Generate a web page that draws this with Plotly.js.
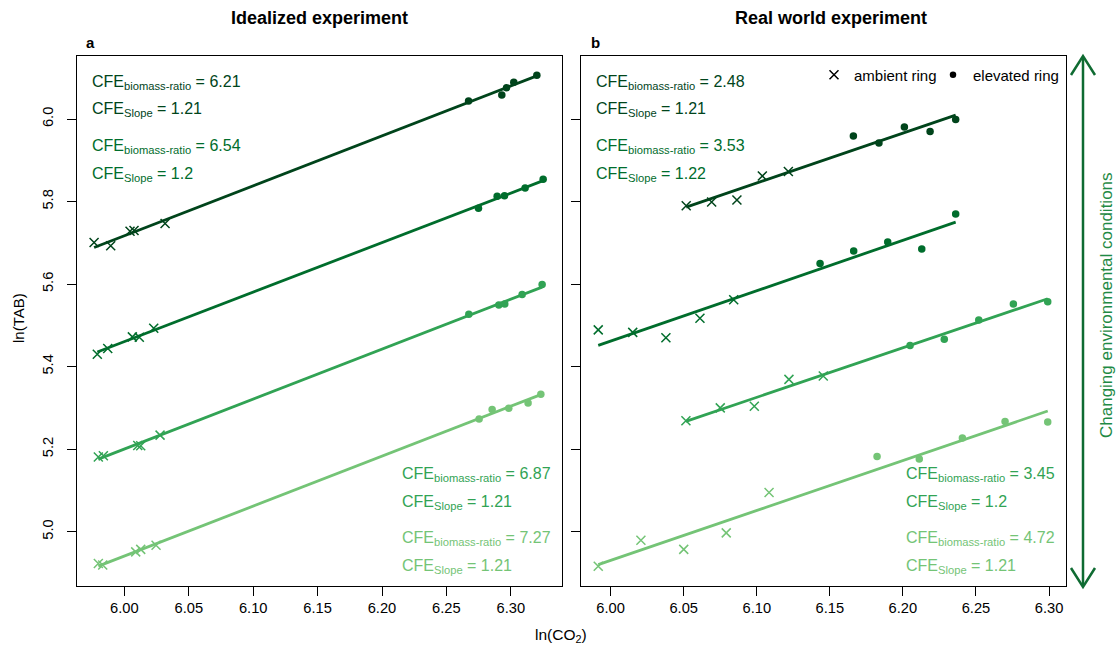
<!DOCTYPE html>
<html>
<head>
<meta charset="utf-8">
<script src="https://cdn.plot.ly/plotly-3.0.1.min.js"></script>
<style>
  html, body { margin: 0; padding: 0; background: #ffffff; }
  #chart { width: 1116px; height: 648px; }
</style>
</head>
<body>
<div id="chart"></div>
<script>
// ---- Data: ln(CO2) vs ln(TAB), four environmental settings per experiment ----
const seriesColors = ['#00441b', '#006d2c', '#31a354', '#74c476'];

// Idealized experiment (panel a)
const idealAmbientX = [
  [5.9765, 5.9894, 6.0044, 6.0075, 6.0316],
  [5.9790, 5.9871, 6.0062, 6.0116, 6.0228],
  [5.9798, 5.9837, 6.0104, 6.0127, 6.0277],
  [5.9798, 5.9832, 6.0088, 6.0127, 6.0246]
];
const idealAmbientY = [
  [5.701, 5.693, 5.728, 5.730, 5.747],
  [5.430, 5.444, 5.472, 5.471, 5.493],
  [5.181, 5.184, 5.209, 5.208, 5.234],
  [4.923, 4.919, 4.951, 4.957, 4.967]
];
const idealElevatedX = [
  [6.2672, 6.2930, 6.2967, 6.3023, 6.3202],
  [6.2749, 6.2894, 6.2951, 6.3111, 6.3251],
  [6.2674, 6.2907, 6.2953, 6.3088, 6.3243],
  [6.2754, 6.2855, 6.2984, 6.3134, 6.3233]
];
const idealElevatedY = [
  [6.044, 6.058, 6.076, 6.089, 6.106],
  [5.784, 5.813, 5.814, 5.833, 5.854],
  [5.527, 5.549, 5.552, 5.575, 5.599],
  [5.273, 5.296, 5.299, 5.312, 5.333]
];
const idealRatio = [6.21, 6.54, 6.87, 7.27];
const idealSlope = [1.21, 1.2, 1.21, 1.21];

// Real world experiment (panel b)
const realAmbientX = [
  [6.0517, 6.0691, 6.0864, 6.1038, 6.1216],
  [5.9915, 6.0151, 6.0378, 6.0611, 6.0842],
  [6.0515, 6.0750, 6.0983, 6.1220, 6.1455],
  [5.9915, 6.0207, 6.0500, 6.0791, 6.1084]
];
const realAmbientY = [
  [5.790, 5.799, 5.804, 5.862, 5.873],
  [5.489, 5.483, 5.470, 5.517, 5.562],
  [5.269, 5.300, 5.304, 5.369, 5.377],
  [4.916, 4.979, 4.957, 4.997, 5.095]
];
const realElevatedX = [
  [6.1661, 6.1836, 6.2010, 6.2186, 6.2361],
  [6.1433, 6.1663, 6.1896, 6.2129, 6.2361],
  [6.2049, 6.2283, 6.2519, 6.2756, 6.2991],
  [6.1823, 6.2112, 6.2407, 6.2699, 6.2991]
];
const realElevatedY = [
  [5.959, 5.942, 5.981, 5.970, 5.999],
  [5.650, 5.680, 5.702, 5.685, 5.770],
  [5.451, 5.466, 5.513, 5.552, 5.557],
  [5.182, 5.176, 5.227, 5.267, 5.266]
];
const realRatio = [2.48, 3.53, 3.45, 4.72];
const realSlope = [1.21, 1.22, 1.2, 1.21];

const xTickVals = [6.00, 6.05, 6.10, 6.15, 6.20, 6.25, 6.30];
const xTickText = ['6.00', '6.05', '6.10', '6.15', '6.20', '6.25', '6.30'];
const yTickVals = [5.0, 5.2, 5.4, 5.6, 5.8, 6.0];
const yTickText = ['5.0', '5.2', '5.4', '5.6', '5.8', '6.0'];

const panelTitles = ['Idealized experiment', 'Real world experiment'];
const panelLetters = ['a', 'b'];
const legendNames = ['ambient ring', 'elevated ring'];
const sideLabel = 'Changing environmental conditions';

// ---- Helpers ----
const W = 1116, H = 648;
const px = v => v / W;
const py = v => 1 - v / H;
const mean = a => a.reduce((s, v) => s + v, 0) / a.length;

// Fitted line with the reported CFE slope through the centroid of the points
function fitLine(xs, ys, slope) {
  const mx = mean(xs), my = mean(ys);
  const x0 = Math.min(...xs), x1 = Math.max(...xs);
  return { x: [x0, x1], y: [my + slope * (x0 - mx), my + slope * (x1 - mx)] };
}

const FONT = 'Liberation Sans, Arial, Helvetica, sans-serif';
const traces = [];

function addPanel(ambX, ambY, elvX, elvY, slopes, xa, ya) {
  for (let i = 0; i < 4; i++) {
    const xs = ambX[i].concat(elvX[i]);
    const ys = ambY[i].concat(elvY[i]);
    const ln = fitLine(xs, ys, slopes[i]);
    traces.push({
      type: 'scatter', mode: 'lines', x: ln.x, y: ln.y, xaxis: xa, yaxis: ya,
      line: { color: seriesColors[i], width: 2.8 }, showlegend: false, hoverinfo: 'skip'
    });
  }
  for (let i = 0; i < 4; i++) {
    traces.push({
      type: 'scatter', mode: 'markers', x: ambX[i], y: ambY[i], xaxis: xa, yaxis: ya,
      marker: { symbol: 'x-thin-open', size: 9, color: seriesColors[i], line: { width: 1.5, color: seriesColors[i] } },
      showlegend: false
    });
    traces.push({
      type: 'scatter', mode: 'markers', x: elvX[i], y: elvY[i], xaxis: xa, yaxis: ya,
      marker: { symbol: 'circle', size: 7.5, color: seriesColors[i] },
      showlegend: false
    });
  }
}

addPanel(idealAmbientX, idealAmbientY, idealElevatedX, idealElevatedY, idealSlope, 'x', 'y');
addPanel(realAmbientX, realAmbientY, realElevatedX, realElevatedY, realSlope, 'x2', 'y2');

// Legend entries (marker key only), one legend box per symbol
traces.push({
  type: 'scatter', mode: 'markers', x: [null], y: [null], xaxis: 'x2', yaxis: 'y2',
  name: legendNames[0], legend: 'legend',
  marker: { symbol: 'x-thin-open', size: 9, color: '#000', line: { width: 1.5, color: '#000' } }
});
traces.push({
  type: 'scatter', mode: 'markers', x: [null], y: [null], xaxis: 'x2', yaxis: 'y2',
  name: legendNames[1], legend: 'legend2',
  marker: { symbol: 'circle', size: 6.5, color: '#000' }
});

// ---- Annotations ----
const annotations = [];
function cfeText(i, ratios, slopes, x, yTop) {
  annotations.push({
    xref: 'paper', yref: 'paper', x: px(x), y: py(yTop), xanchor: 'left', yanchor: 'middle',
    text: 'CFE<sub>biomass-ratio</sub> = ' + ratios[i], showarrow: false,
    font: { family: FONT, size: 16, color: seriesColors[i] }
  });
  annotations.push({
    xref: 'paper', yref: 'paper', x: px(x), y: py(yTop + 28), xanchor: 'left', yanchor: 'middle',
    text: 'CFE<sub>Slope</sub> = ' + slopes[i], showarrow: false,
    font: { family: FONT, size: 16, color: seriesColors[i] }
  });
}
const upperRows = [82, 146];
const lowerRows = [474, 538];
cfeText(0, idealRatio, idealSlope, 90, upperRows[0]);
cfeText(1, idealRatio, idealSlope, 90, upperRows[1]);
cfeText(2, idealRatio, idealSlope, 400, lowerRows[0]);
cfeText(3, idealRatio, idealSlope, 400, lowerRows[1]);
cfeText(0, realRatio, realSlope, 594, upperRows[0]);
cfeText(1, realRatio, realSlope, 594, upperRows[1]);
cfeText(2, realRatio, realSlope, 904, lowerRows[0]);
cfeText(3, realRatio, realSlope, 904, lowerRows[1]);

// Panel titles and letters
[[319, 0], [831, 1]].forEach(([cx, k]) => {
  annotations.push({
    xref: 'paper', yref: 'paper', x: px(cx), y: py(18), xanchor: 'center', yanchor: 'middle',
    text: '<b>' + panelTitles[k] + '</b>', showarrow: false,
    font: { family: FONT, size: 18, color: '#000' }
  });
});
[[90, 0], [595, 1]].forEach(([cx, k]) => {
  annotations.push({
    xref: 'paper', yref: 'paper', x: px(cx), y: py(43), xanchor: 'center', yanchor: 'middle',
    text: '<b>' + panelLetters[k] + '</b>', showarrow: false,
    font: { family: FONT, size: 15, color: '#000' }
  });
});

// Axis titles
annotations.push({
  xref: 'paper', yref: 'paper', x: px(561), y: py(635), xanchor: 'center', yanchor: 'middle',
  text: 'ln(CO<sub>2</sub>)', showarrow: false, font: { family: FONT, size: 15.5, color: '#000' }
});
annotations.push({
  xref: 'paper', yref: 'paper', x: px(18), y: py(318), xanchor: 'center', yanchor: 'middle',
  text: 'ln(TAB)', textangle: -90, showarrow: false, font: { family: FONT, size: 15, color: '#000' }
});

// Side label along the arrow
annotations.push({
  xref: 'paper', yref: 'paper', x: px(1106), y: py(305), xanchor: 'center', yanchor: 'middle',
  text: sideLabel, textangle: -90, showarrow: false, font: { family: FONT, size: 17, color: '#1f8a45' }
});

// Double-headed arrow
const arrowColor = '#0f6b32';
const ax = 1083, aTop = 56, aBot = 587;
const shapes = [
  { type: 'line', xref: 'paper', yref: 'paper', x0: px(ax), x1: px(ax), y0: py(aTop + 1), y1: py(aBot - 1),
    line: { color: arrowColor, width: 2.5 } },
  { type: 'path', xref: 'paper', yref: 'paper',
    path: `M ${px(ax - 12)} ${py(aTop + 19)} L ${px(ax)} ${py(aTop)} L ${px(ax + 12)} ${py(aTop + 19)}`,
    line: { color: arrowColor, width: 2.5 } },
  { type: 'path', xref: 'paper', yref: 'paper',
    path: `M ${px(ax - 12)} ${py(aBot - 19)} L ${px(ax)} ${py(aBot)} L ${px(ax + 12)} ${py(aBot - 19)}`,
    line: { color: arrowColor, width: 2.5 } }
];

// ---- Axes ----
const xCommon = {
  tickvals: xTickVals, ticktext: xTickText, ticks: 'outside', ticklen: 9, tickwidth: 1, tickcolor: '#000',
  showline: true, mirror: true, linecolor: '#000', linewidth: 1,
  showgrid: false, zeroline: false, tickfont: { family: FONT, size: 14.7, color: '#000' }
};
const yCommon = {
  range: [4.869, 6.1535], tickvals: yTickVals, ticktext: yTickText, ticks: 'outside', ticklen: 9,
  tickwidth: 1, tickcolor: '#000', tickangle: -90, ticklabelstandoff: 8,
  showline: true, mirror: true, linecolor: '#000', linewidth: 1,
  showgrid: false, zeroline: false, tickfont: { family: FONT, size: 14.7, color: '#000' }
};
const yDomain = [py(585.7), py(55.7)];

const legendCommon = {
  orientation: 'h', xanchor: 'left', yanchor: 'middle', y: py(75),
  bgcolor: 'rgba(0,0,0,0)', font: { family: FONT, size: 15, color: '#000' }, itemwidth: 30
};

const layout = {
  width: W, height: H,
  margin: { l: 0, r: 0, t: 0, b: 0 },
  paper_bgcolor: '#fff', plot_bgcolor: '#fff',
  font: { family: FONT, color: '#000' },
  xaxis: Object.assign({}, xCommon, { domain: [px(76.7), px(561.7)], range: [5.963, 6.3395], anchor: 'y' }),
  yaxis: Object.assign({}, yCommon, { domain: yDomain, anchor: 'x' }),
  xaxis2: Object.assign({}, xCommon, { domain: [px(581), px(1065.7)], range: [5.9797, 6.3114], anchor: 'y2' }),
  yaxis2: Object.assign({}, yCommon, { domain: yDomain, anchor: 'x2', showticklabels: false }),
  showlegend: true,
  legend: Object.assign({}, legendCommon, { x: px(814) }),
  legend2: Object.assign({}, legendCommon, { x: px(933) }),
  annotations: annotations,
  shapes: shapes
};

Plotly.newPlot('chart', traces, layout, { displayModeBar: false, staticPlot: true });
</script>
</body>
</html>
